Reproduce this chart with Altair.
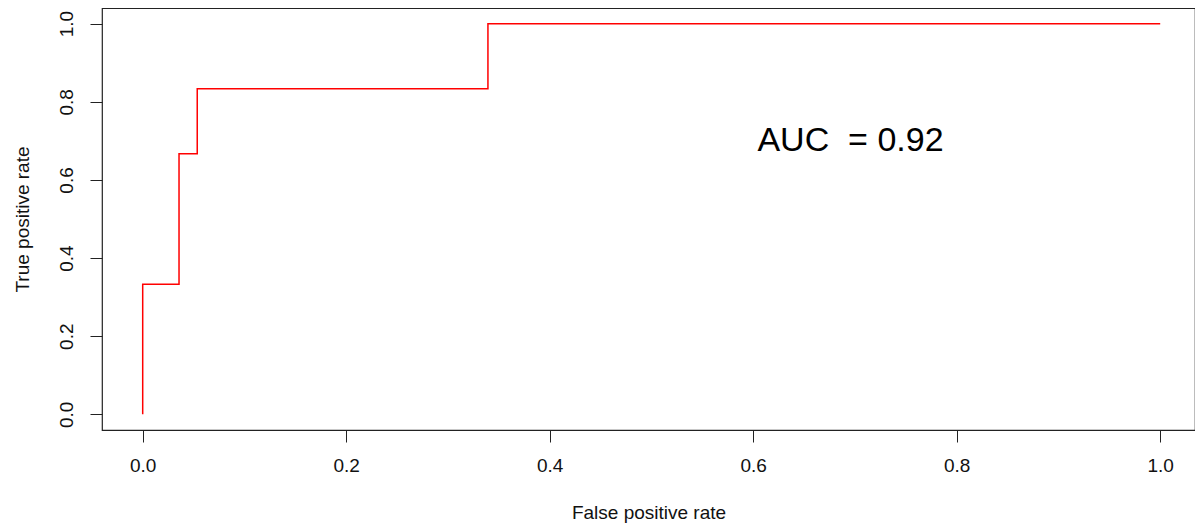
import altair as alt
import pandas as pd

fpr = [0.0, 0.0, 0.0357, 0.0536, 0.3393, 1.0]
tpr = [0.0, 0.3333, 0.6667, 0.8333, 1.0, 1.0]
tick_vals = [0.0, 0.2, 0.4, 0.6, 0.8, 1.0]
auc_label = ["AUC\u00a0\u00a0= 0.92"]
auc_pos_x = [0.6956]
auc_pos_y = [0.70]

roc = pd.DataFrame({"fpr": fpr, "tpr": tpr, "order": list(range(len(fpr)))})
ann = pd.DataFrame({"x": auc_pos_x, "y": auc_pos_y, "label": auc_label})

FONT = "Liberation Sans"
xscale = alt.Scale(domain=[-0.04, 1.0342], nice=False, zero=False)
yscale = alt.Scale(domain=[-0.04, 1.04], nice=False, zero=False)

xaxis = alt.Axis(
    title="False positive rate", values=tick_vals, format=".1f", grid=False,
    domain=False, tickSize=12, tickColor="#222", tickWidth=1,
    labelFont=FONT, labelFontSize=19, labelColor="#111", labelPadding=14,
    titleFont=FONT, titleFontSize=19, titleFontWeight="normal", titleColor="#111",
    titlePadding=28, labelFlush=False,
)
yaxis = alt.Axis(
    title="True positive rate", values=tick_vals, format=".1f", grid=False,
    domain=False, tickSize=12, tickColor="#222", tickWidth=1,
    labelFont=FONT, labelFontSize=19, labelColor="#111", labelPadding=14,
    labelAngle=270, labelAlign="center", labelBaseline="bottom",
    titleFont=FONT, titleFontSize=19, titleFontWeight="normal", titleColor="#111",
    titlePadding=25, labelFlush=False,
)

line = alt.Chart(roc).mark_line(
    interpolate="step-after", color="#ff0000", strokeWidth=1.5
).encode(
    x=alt.X("fpr:Q", scale=xscale, axis=xaxis),
    y=alt.Y("tpr:Q", scale=yscale, axis=yaxis),
    order="order:Q",
)

text = alt.Chart(ann).mark_text(
    font=FONT, fontSize=34, color="#000", align="center", baseline="middle"
).encode(
    x=alt.X("x:Q", scale=xscale),
    y=alt.Y("y:Q", scale=yscale),
    text="label:N",
)

chart = alt.layer(line, text).properties(
    width=1093, height=422,
    autosize=alt.AutoSizeParams(type="none"),
    padding={"left": 94, "top": 0, "right": 0, "bottom": 93},
).configure_view(stroke="#222", strokeWidth=1.2)

chart.save("out.html", embed_options={"renderer": "svg", "actions": False})
